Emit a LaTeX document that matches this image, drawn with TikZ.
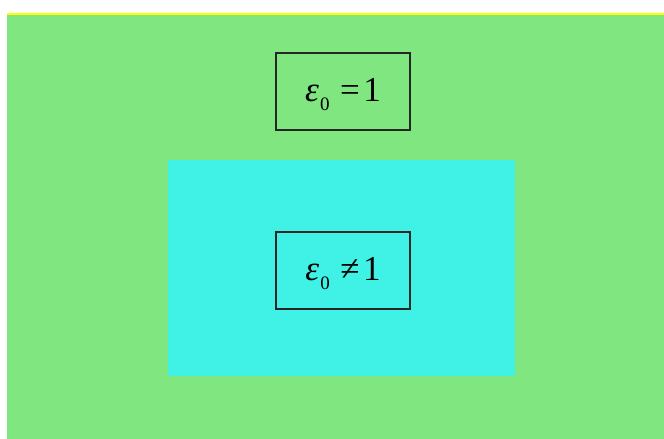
\documentclass[tikz,border=0pt]{standalone}
\usepackage{fontspec}
\setmainfont{Liberation Serif}
\definecolor{bggreen}{HTML}{80E680}
\definecolor{incyan}{HTML}{40F2E6}
\definecolor{topyellow}{HTML}{FFFF00}
\tikzset{
  eqbox/.style={draw=black!85, line width=2pt, minimum width=134pt, text height=48pt, text depth=29pt, inner sep=0pt, font=\fontsize{35}{35}\selectfont},
}
\newcommand{\epsz}{{\itshape ε}\kern0.03em\raisebox{-0.28em}{\fontsize{19}{19}\selectfont 0}}
\begin{document}
\begin{tikzpicture}[x=1pt,y=-1pt]
\useasboundingbox (0,0) rectangle (664,439);
\fill[white] (0,0) rectangle (664,439);
\fill[bggreen] (7,14) rectangle (664,439);
\draw[topyellow, line width=2pt] (7,14) -- (664,14);
\fill[incyan] (168,160) rectangle (515,376);
\node[eqbox] (top) at (343,91.5) {\epsz\kern0.3em=\kern0.1em1};
\node[eqbox] (bot) at (343,270.5) {\epsz\kern0.3em≠\kern0.1em1};
\end{tikzpicture}
\end{document}
